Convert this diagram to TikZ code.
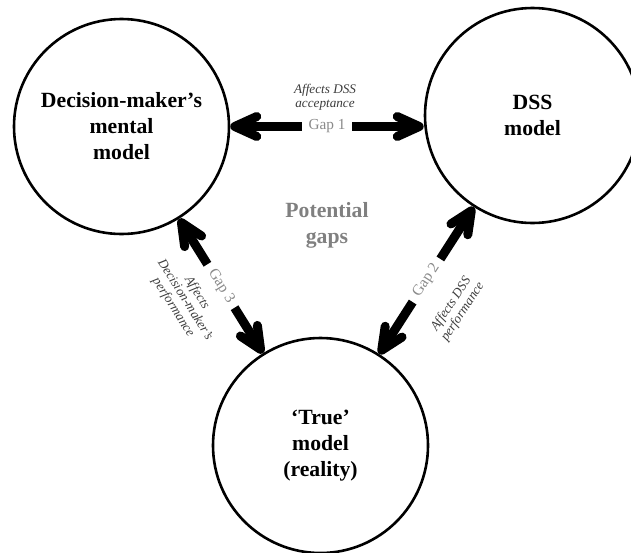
\documentclass[tikz,border=0pt]{standalone}
\usepackage{fontspec}
\setmainfont{Liberation Serif}
\usetikzlibrary{arrows.meta}
\definecolor{gapGray}{HTML}{8A8A8A}
\definecolor{noteGray}{HTML}{3C3C3C}
\definecolor{potGray}{HTML}{808080}

\begin{document}
\begin{tikzpicture}[x=1pt,y=-1pt,
  >={Straight Barb[length=22pt,width=20pt,line cap=round,line join=round]},
  model/.style={circle,draw=black,line width=2.6pt,minimum size=215pt,inner sep=0pt,align=center,font=\fontsize{21.7}{26}\selectfont\bfseries},
  gap/.style={<->,line width=9pt,draw=black},
  gaplabel/.style={fill=white,text=gapGray,inner xsep=7pt,inner ysep=2pt,font=\fontsize{15.3}{17}\selectfont},
  note/.style={text=noteGray,align=center,font=\fontsize{13.2}{14}\selectfont\itshape}
]
\useasboundingbox (0,0) rectangle (631,552);
% three models, with a potential gap between each pair
\node[model] (mental) at (121.5,126.5) {Decision-maker's\\mental\\model};
\node[model] (dss) at (532.5,115.5) {DSS\\model};
\node[model] (true) at (320.5,445.5) {`True'\\model\\(reality)};
\node[text=potGray,align=center,font=\fontsize{21.7}{26}\selectfont\bfseries] (potential) at (327,225) {Potential\\gaps};
\draw[gap] (mental.east) -- node[gaplabel] (gapone) {Gap 1} (dss.west |- mental.east);
\draw[gap] (mental) -- node[gaplabel,sloped] (gapthree) {Gap 3} (true);
\draw[gap] (dss) -- node[gaplabel,sloped] (gaptwo) {Gap 2} (true);
\node[note] (accept) at (325,97) {Affects DSS\\acceptance};
\node[note,rotate=56.5] (dssperf) at (457,308) {Affects DSS\\performance};
\node[note,rotate=-57.8] (dmperf) at (185,300) {Affects\\Decision-maker's\\performance};
\end{tikzpicture}
\end{document}
